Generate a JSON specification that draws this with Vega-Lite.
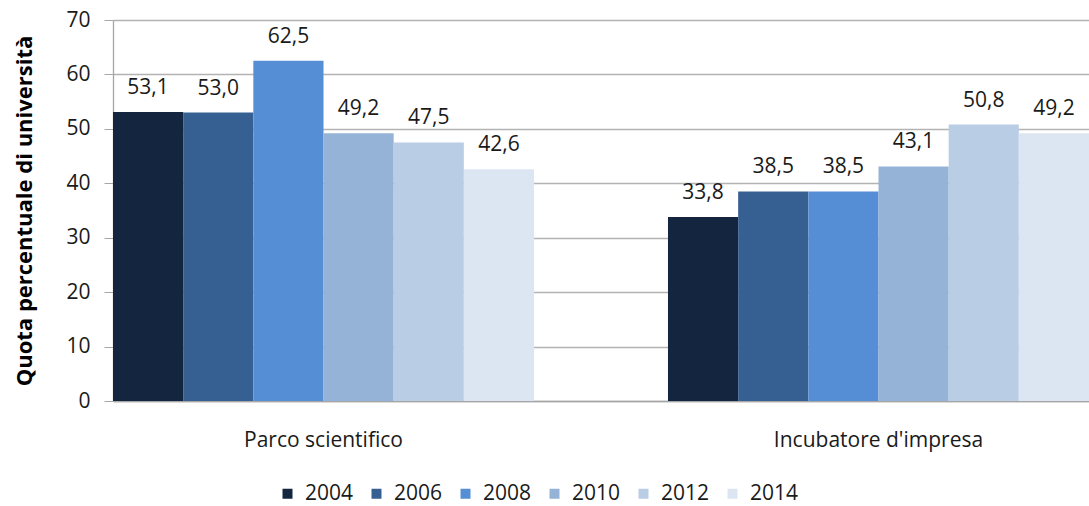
{
  "$schema": "https://vega.github.io/schema/vega-lite/v6.json",
  "autosize": "none",
  "width": 976,
  "height": 381,
  "padding": {"left": 113, "top": 20, "right": 0, "bottom": 105},
  "background": "white",
  "config": {
    "locale": {"number": {"decimal": ",", "thousands": ".", "grouping": [3], "currency": ["€", ""]}},
    "font": "Open Sans",
    "view": {"stroke": null}
  },
  "data": {
    "values": [
      {"cat": "Parco scientifico", "anno": "2004", "v": 53.1},
      {"cat": "Parco scientifico", "anno": "2006", "v": 53.0},
      {"cat": "Parco scientifico", "anno": "2008", "v": 62.5},
      {"cat": "Parco scientifico", "anno": "2010", "v": 49.2},
      {"cat": "Parco scientifico", "anno": "2012", "v": 47.5},
      {"cat": "Parco scientifico", "anno": "2014", "v": 42.6},
      {"cat": "Incubatore d'impresa", "anno": "2004", "v": 33.8},
      {"cat": "Incubatore d'impresa", "anno": "2006", "v": 38.5},
      {"cat": "Incubatore d'impresa", "anno": "2008", "v": 38.5},
      {"cat": "Incubatore d'impresa", "anno": "2010", "v": 43.1},
      {"cat": "Incubatore d'impresa", "anno": "2012", "v": 50.8},
      {"cat": "Incubatore d'impresa", "anno": "2014", "v": 49.2}
    ]
  },
  "encoding": {
    "x": {
      "field": "cat", "type": "nominal", "sort": ["Parco scientifico", "Incubatore d'impresa"],
      "scale": {"paddingInner": 0.2414, "paddingOuter": 0},
      "axis": {"title": null, "labelAngle": 0, "labelFontSize": 21, "labelColor": "#1a1a1a", "labelPadding": 28, "labelLimit": 0, "ticks": false, "domainColor": "#a6a6a6", "domainWidth": 1.3}
    },
    "xOffset": {"field": "anno", "type": "nominal", "scale": {"paddingInner": 0, "paddingOuter": 0}},
    "y": {
      "field": "v", "type": "quantitative",
      "scale": {"domain": [0, 70], "nice": false},
      "axis": {
        "title": "Quota percentuale di università", "titleFontSize": 22, "titleFontWeight": "bold", "titleColor": "#000", "titlePadding": 29,
        "values": [0, 10, 20, 30, 40, 50, 60, 70], "labelFontSize": 21, "labelColor": "#1a1a1a", "labelPadding": 14,
        "tickSize": 9, "tickColor": "#a6a6a6", "domainColor": "#a6a6a6", "domainWidth": 1.3,
        "gridColor": "#b3b3b3", "gridWidth": 1.3
      }
    }
  },
  "layer": [
    {
      "mark": {"type": "bar"},
      "encoding": {
        "color": {
          "field": "anno", "type": "nominal",
          "scale": {"domain": ["2004", "2006", "2008", "2010", "2012", "2014"], "range": ["#14253f", "#376092", "#558ed5", "#95b3d7", "#b9cde5", "#dce6f2"]},
          "legend": {
            "title": null, "orient": "none", "direction": "horizontal", "legendX": 164, "legendY": 463,
            "symbolType": "square", "symbolSize": 100, "symbolStrokeWidth": 0, "labelFontSize": 21, "labelColor": "#1a1a1a",
            "columnPadding": 12, "labelOffset": 7
          }
        }
      }
    },
    {
      "mark": {"type": "text", "baseline": "alphabetic", "dy": -18, "fontSize": 21, "color": "#1a1a1a"},
      "encoding": {"text": {"field": "v", "type": "quantitative", "format": ".1f"}}
    }
  ]
}
